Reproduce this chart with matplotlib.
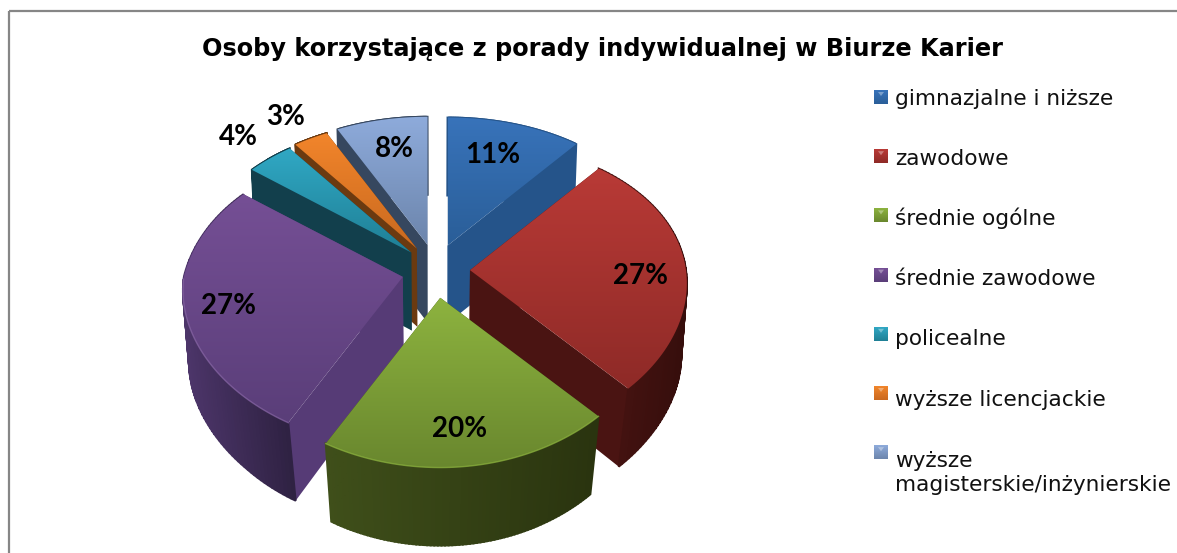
import numpy as np
import matplotlib.pyplot as plt
from matplotlib.patches import Polygon, Rectangle
from matplotlib.colors import LinearSegmentedColormap

title = 'Osoby korzystające z porady indywidualnej w Biurze Karier'
categories = ['gimnazjalne i niższe', 'zawodowe', 'średnie ogólne', 'średnie zawodowe',
              'policealne', 'wyższe licencjackie', 'wyższe\nmagisterskie/inżynierskie']
values = [11, 27, 20, 27, 4, 3, 8]

#-------styles, one row per slice------
top_cols = [('#3873ba', '#2a5e98'), ('#b93a36', '#8e2a27'), ('#8db33f', '#69872e'),
            ('#754f95', '#5a3e79'), ('#30a8c4', '#1f7f95'), ('#f2852b', '#c9691f'),
            ('#8eabdb', '#6c85ac')]
side_cols = ['#25548a', '#4a1412', '#3a4a18', '#563b76', '#123f4c', '#6b3a10', '#36475f']
outer_cols = [('#25548a', '#25548a'), ('#4a1412', '#360e0c'), ('#3f4f1a', '#2a340f'),
              ('#4c3569', '#2f2243'), ('#123f4c', '#123f4c'), ('#6b3a10', '#6b3a10'),
              ('#36475f', '#36475f')]
rim_cols = [None, None, '#8fb640', '#8a68a8', None, None, None]
label_xy = [(493, 155), (641, 276), (460, 429), (228, 306), (238, 137), (286, 117), (394, 149)]
draw_order = [6, 0, 5, 4, 1, 3, 2]

cx, cy = 436, 271
ex, ey = 34, 27
rx_left, rx_right, ry = 219, 216, 146
kx, ky = 0.09, 0.14
depth = 78

fig = plt.figure(figsize=(11.77, 5.53), dpi=100)
ax = fig.add_axes([0, 0, 1, 1])


def rim(a, mid):
    # point on the top of the pie for clockwise angle a, slice pulled out along mid
    u, v = np.sin(a), np.cos(a)
    back_left = np.clip(v, 0, 1) * (u < 0)
    r = np.where(u < 0, rx_left * (1 - 0.09 * back_left), rx_right)
    x = cx + ex * np.sin(mid) + r * u / (1 + kx * v)
    y = cy - ey * np.cos(mid) - ry * v / (1 + ky * v) - 14 * back_left * (1 - back_left)
    return np.column_stack([x, y])


def down(pts):
    # same points on the bottom of the pie, front pulled in more than back
    s = 0.98 - 0.03 * np.clip((pts[:, 1] - cy) / 120, 0, 1)
    return np.column_stack([cx + (pts[:, 0] - cx) * s, pts[:, 1] + depth])


def grad_fill(pts, c1, c2, z=1):
    cm = LinearSegmentedColormap.from_list('g', [c1, c2])
    x0, x1 = pts[:, 0].min(), pts[:, 0].max()
    y0, y1 = pts[:, 1].min(), pts[:, 1].max()
    g = np.linspace(0, 1, 128).reshape(-1, 1)
    im = ax.imshow(g, cmap=cm, extent=[x0, x1, y1, y0], aspect='auto', zorder=z,
                   interpolation='bilinear')
    poly = Polygon(pts, closed=True, facecolor='none', edgecolor='none', transform=ax.transData)
    ax.add_patch(poly)
    im.set_clip_path(poly)


edges = np.radians(np.concatenate([[0], np.cumsum(values)]) * 3.6)
z = 2
for i in draw_order:
    a0, a1 = edges[i], edges[i + 1]
    mid = (a0 + a1) / 2
    angles = np.linspace(a0, a1, 80)
    arc = rim(angles, mid)
    low = down(arc)
    apex = np.array([[cx + ex * np.sin(mid), cy - ey * np.cos(mid)]])
    # the two cut faces
    for end in (arc[:1], arc[-1:]):
        face = np.vstack([apex, end, down(end), down(apex)])
        ax.add_patch(Polygon(face, closed=True, facecolor=side_cols[i], edgecolor='none', zorder=z))
        z += 1
    # outer wall, strips so the edge follows the sweep of the rim
    cm = LinearSegmentedColormap.from_list('w', list(outer_cols[i]))
    x0, x1 = arc[:, 0].min(), arc[:, 0].max()
    for j in range(len(arc) - 1):
        quad = [arc[j], arc[j + 1], low[j + 1], low[j]]
        c = cm((arc[j, 0] - x0) / (x1 - x0))
        ax.add_patch(Polygon(quad, closed=True, facecolor=c, edgecolor=c, lw=1.4, zorder=z))
    z += 1
    # top
    top = np.vstack([apex, arc])
    grad_fill(top, top_cols[i][0], top_cols[i][1], z=z)
    z += 1
    if rim_cols[i]:
        front = arc[np.cos(angles) < 0]
        ax.plot(front[:, 0], front[:, 1], color=rim_cols[i], lw=1, alpha=.7, zorder=z)
        z += 1

for i, v in enumerate(values):
    ax.text(label_xy[i][0], label_xy[i][1], '%d%%' % v, family='Lato', weight='bold',
            fontsize=20, ha='center', va='center', color='k', zorder=200)

ax.text(602, 49, title, family='DejaVu Sans', weight='bold', fontsize=17.3,
        ha='center', va='center', color='k', zorder=200)

#-------legend------
for i, name in enumerate(categories):
    y = 97 + i * 59.2
    sq = np.array([[874, y - 7], [888, y - 7], [888, y + 7], [874, y + 7]])
    grad_fill(sq, top_cols[i][0], top_cols[i][1], z=150)
    ax.add_patch(Polygon([[878, y - 5], [884, y - 5], [881, y - 1]], closed=True,
                         facecolor='white', alpha=.35, edgecolor='none', zorder=151))
    # matplotlib puts the baseline on the last line of a wrapped label
    base = 105 + i * 60.1 + name.count('\n') * 25
    ax.text(895, base, name, family='DejaVu Sans', fontsize=15.6, ha='left', va='baseline',
            color='#111111', linespacing=1.2, zorder=200)

ax.add_patch(Rectangle((9, 11), 1400, 800, facecolor='none', edgecolor='#868686', lw=1.6, zorder=300))
ax.set_xlim(0, 1177)
ax.set_ylim(553, 0)
ax.axis('off')
fig.savefig('out.png', dpi=100)
